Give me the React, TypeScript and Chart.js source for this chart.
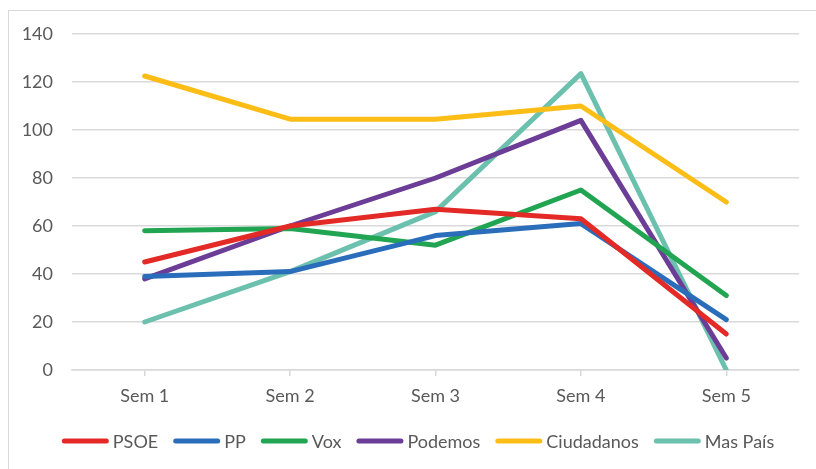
import React, { useEffect, useRef } from "react";
import { Chart, registerables } from "chart.js";

Chart.register(...registerables);

const categories = ["Sem 1", "Sem 2", "Sem 3", "Sem 4", "Sem 5"];
const seriesNames = ["PSOE", "PP", "Vox", "Podemos", "Ciudadanos", "Mas País"];
const psoe = [45, 60, 67, 63, 15];
const pp = [39, 41, 56, 61, 21];
const vox = [58, 59, 52, 75, 31];
const podemos = [38, 60, 80, 104, 5];
const ciudadanos = [122.5, 104.5, 104.5, 110, 70];
const masPais = [20, 41, 66, 123.5, 0];
const seriesValues = [psoe, pp, vox, podemos, ciudadanos, masPais];
const seriesColors = ["#e42a26", "#2a6ebb", "#22a552", "#6b3d96", "#fdbd17", "#6cc0ae"];
const yTicks = [0, 20, 40, 60, 80, 100, 120, 140];

const FONT = "Lato, 'Open Sans', sans-serif";
const TEXT = "#595959";
const GRID = "#d9d9d9";

const legendPlugin = {
  id: "customLegend",
  afterDraw(chart: any) {
    const ctx = chart.ctx;
    ctx.save();
    ctx.font = `18px ${FONT}`;
    const sw = 47;
    const gap = 4;
    const between = 15;
    const ds = chart.data.datasets;
    const widths = ds.map((d: any) => sw + gap + ctx.measureText(d.label).width);
    const total = widths.reduce((a: number, b: number) => a + b, 0) + between * (ds.length - 1);
    let x = 418 - total / 2;
    const y = 441;
    ds.forEach((d: any, i: number) => {
      ctx.strokeStyle = d.borderColor;
      ctx.lineWidth = 5;
      ctx.lineCap = "round";
      ctx.beginPath();
      ctx.moveTo(x + 2.5, y);
      ctx.lineTo(x + sw - 2.5, y);
      ctx.stroke();
      ctx.fillStyle = TEXT;
      ctx.textBaseline = "middle";
      ctx.textAlign = "left";
      ctx.fillText(d.label, x + sw + gap, y + 1);
      x += widths[i] + between;
    });
    ctx.restore();
  },
};

export default function App() {
  const ref = useRef<HTMLCanvasElement | null>(null);
  useEffect(() => {
    if (!ref.current) return;
    const chart = new Chart(ref.current, {
      type: "line",
      data: {
        labels: categories,
        datasets: seriesNames.map((name, i) => ({
          label: name,
          data: seriesValues[i],
          borderColor: seriesColors[i],
          backgroundColor: seriesColors[i],
          borderWidth: 5,
          pointRadius: 0,
          pointHoverRadius: 0,
          tension: 0,
          borderCapStyle: "round" as const,
          borderJoinStyle: "round" as const,
        })),
      },
      options: {
        animation: false,
        responsive: false,
        maintainAspectRatio: false,
        layout: { padding: { top: 34, right: 17, left: 0, bottom: 0 } },
        plugins: {
          legend: { display: false },
          tooltip: { enabled: false },
        },
        scales: {
          x: {
            offset: true,
            afterFit: (s: any) => {
              s.height = 99;
            },
            grid: {
              drawOnChartArea: false,
              drawTicks: true,
              tickLength: 6,
              color: GRID,
              lineWidth: 1.5,
            },
            border: { display: true, color: GRID, width: 1.5 },
            ticks: {
              color: TEXT,
              font: { family: FONT, size: 18 },
              padding: 9,
            },
          },
          y: {
            min: 0,
            max: 140,
            afterFit: (s: any) => {
              s.width = 72;
            },
            afterBuildTicks: (s: any) => {
              s.ticks = yTicks.map((v) => ({ value: v }));
            },
            grid: { drawTicks: false, color: GRID, lineWidth: 1.5 },
            border: { display: false },
            ticks: {
              color: TEXT,
              font: { family: FONT, size: 18 },
              padding: 19,
            },
          },
        },
      },
      plugins: [legendPlugin],
    });
    return () => chart.destroy();
  }, []);
  return (
    <div style={{ position: "fixed", left: 0, top: 0, width: 816, height: 469, background: "#fff", overflow: "hidden" }}>
      <div
        style={{
          position: "absolute",
          left: 8,
          top: 10,
          width: 1000,
          height: 1000,
          border: `1px solid ${GRID}`,
          boxSizing: "border-box",
        }}
      />
      <canvas ref={ref} width={816} height={469} style={{ position: "absolute", left: 0, top: 0, width: 816, height: 469 }} />
    </div>
  );
}
